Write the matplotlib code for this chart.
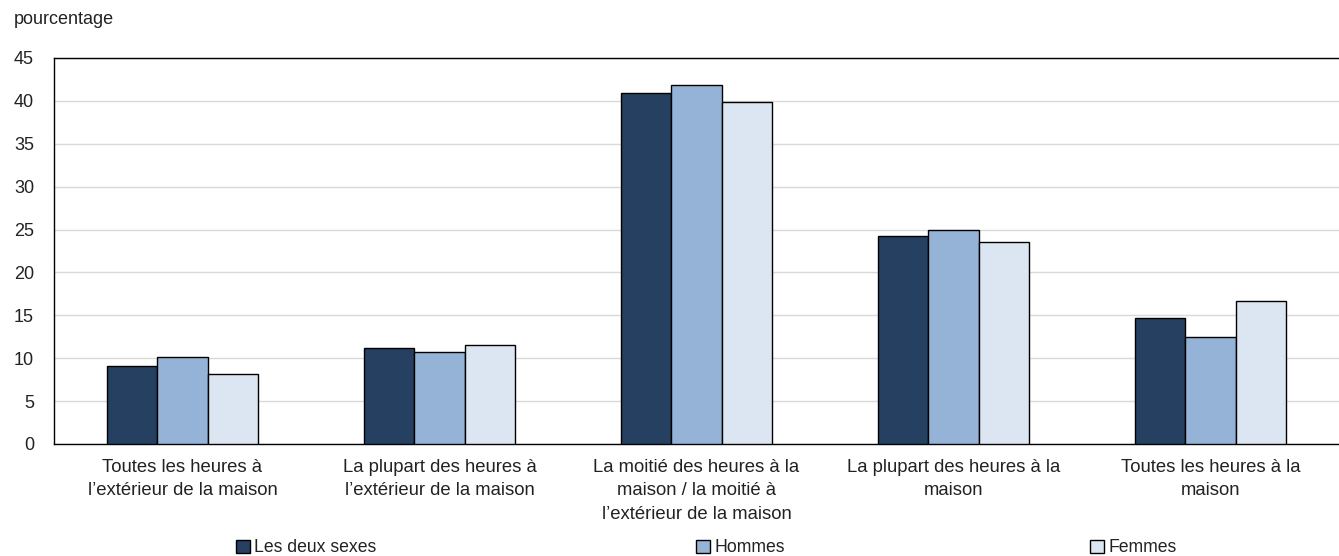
import matplotlib
matplotlib.use("Agg")
import matplotlib.pyplot as plt
import numpy as np
from matplotlib.patches import Patch

categories = [
    "Toutes les heures à\nl’extérieur de la maison",
    "La plupart des heures à\nl’extérieur de la maison",
    "La moitié des heures à la\nmaison / la moitié à\nl’extérieur de la maison",
    "La plupart des heures à la\nmaison",
    "Toutes les heures à la\nmaison",
]
series_names = ["Les deux sexes", "Hommes", "Femmes"]
les_deux_sexes = [9.1, 11.2, 40.9, 24.2, 14.7]
hommes = [10.1, 10.7, 41.9, 24.9, 12.5]
femmes = [8.2, 11.5, 39.9, 23.6, 16.7]
yticks = [0, 5, 10, 15, 20, 25, 30, 35, 40, 45]
colors = ["#264062", "#95B3D7", "#DCE6F2"]

plt.rcParams['font.family'] = ['Liberation Sans', 'DejaVu Sans']

fig = plt.figure(figsize=(13.39, 5.56), dpi=100)
ax = fig.add_axes([54/1339, 1-444/556, 1-54/1339, (444-58)/556])

x = np.arange(len(categories))
w = 0.195
for i, (vals, c) in enumerate(zip([les_deux_sexes, hommes, femmes], colors)):
    ax.bar(x + (i-1)*w, vals, w, color=c, edgecolor="black", linewidth=1, zorder=3)

ax.set_xlim(-0.5, len(categories)-0.5)
ax.set_ylim(0, 45)
ax.set_yticks(yticks)
ax.set_yticklabels([str(t) for t in yticks], fontsize=13, color="#222222")
ax.set_xticks(x)
ax.set_xticklabels(categories, fontsize=13.3, linespacing=1.53, color="#222222")
ax.tick_params(axis='both', length=0)
ax.tick_params(axis='y', pad=14.4)
ax.tick_params(axis='x', pad=10.5)
ax.grid(axis='y', color="#d9d9d9", linewidth=1, zorder=0)
for s in ['left', 'top', 'bottom']:
    ax.spines[s].set_color('black')
    ax.spines[s].set_linewidth(1)
ax.spines['right'].set_visible(False)

fig.text(14/1339, 1-20/556, "pourcentage", fontsize=13, va='center', ha='left', color="#222222")

legend_x = [236, 696, 1090]
for name, c, lx in zip(series_names, colors, legend_x):
    leg = fig.legend(handles=[Patch(facecolor=c, edgecolor='black', linewidth=1)], labels=[name],
                     loc='center left', bbox_to_anchor=(lx/1339, 1-548/556), frameon=False,
                     fontsize=12.7, handlelength=0.78, handleheight=0.78, handletextpad=0.25,
                     borderpad=0, borderaxespad=0)
    for t in leg.get_texts():
        t.set_color("#222222")

fig.savefig("out.png", dpi=100)
